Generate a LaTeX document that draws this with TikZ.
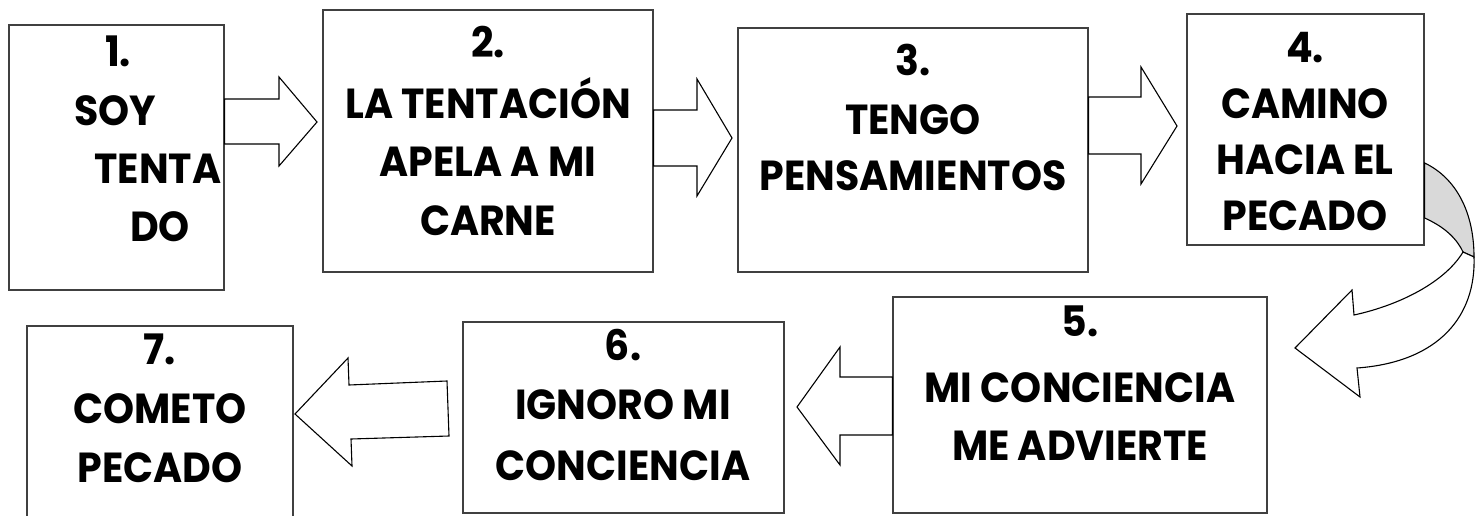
\documentclass[tikz,border=0pt]{standalone}
\usepackage{fontspec}
\setmainfont{Poppins}[FakeStretch=0.94]
\begin{document}
\begin{tikzpicture}[x=1pt,y=-1pt,
  box/.style={draw=black!75, line width=1.3pt, rectangle, inner sep=0pt, fill=white},
  blockarrow/.style={draw=black, line width=1.1pt, fill=white, line join=miter},
  ribbon/.style={draw=black, line width=1.1pt, fill=black!15},
  lbl/.style={font=\fontsize{42}{50}\selectfont\bfseries, anchor=base, inner sep=0pt}]
\useasboundingbox (0,0) rectangle (1479,516);
\fill[white] (0,0) rectangle (1479,516);

% boxes
\node[box, minimum width=215pt, minimum height=265pt] (b1) at (116.5,157.5) {};
\node[box, minimum width=330pt, minimum height=262pt] (b2) at (488,141) {};
\node[box, minimum width=350pt, minimum height=244pt] (b3) at (913,150) {};
\node[box, minimum width=237pt, minimum height=231pt] (b4) at (1305.5,129.5) {};
\node[box, minimum width=374pt, minimum height=216pt] (b5) at (1080,405) {};
\node[box, minimum width=321pt, minimum height=191pt] (b6) at (623.5,417.5) {};
\node[box, minimum width=266pt, minimum height=214pt] (b7) at (160,433) {};

% straight block arrows
\draw[blockarrow] (b1.east |- 0,99) -- (279,99) -- (279,77) -- (317,122) -- (279,166) -- (279,144) -- (b1.east |- 0,144) -- cycle;
\draw[blockarrow] (b2.east |- 0,110) -- (697,110) -- (697,79) -- (732,138) -- (697,196) -- (697,166) -- (b2.east |- 0,166) -- cycle;
\draw[blockarrow] (b3.east |- 0,97) -- (1141,97) -- (1141,67) -- (1177,126) -- (1141,184) -- (1141,154) -- (b3.east |- 0,154) -- cycle;
\draw[blockarrow] (b5.west |- 0,377) -- (840,377) -- (840,347) -- (797,407) -- (840,465) -- (840,435) -- (b5.west |- 0,435) -- cycle;
\draw[blockarrow] (447,381) -- (349,385) -- (348,358) -- (295,414) -- (352,466) -- (351,439) -- (449,436) -- cycle;

% curved arrow from box 4 to box 5
\coordinate (cA) at (b4.east |- 0,163);
\coordinate (cB) at (b4.east |- 0,218);
\coordinate (cD) at (1474,257);
\coordinate (cC) at (1463,252);
\draw[ribbon] (cA) .. controls (1456,178) and (1474,212) .. (cD) -- (cC) .. controls (1455,235) and (1440,225) .. (cB) -- cycle;
\draw[blockarrow] (cD) .. controls (1476,315) and (1440,362) .. (1357,368) -- (1360,397) -- (1295,348) -- (1352,290) -- (1354,315) .. controls (1400,305) and (1445,282) .. (cC) -- cycle;

% texts
\node[lbl] (t1a) at (118,67) {1.};
\node[lbl] (t1b) at (115,125) {SOY};
\node[lbl] (t1c) at (158,183) {TENTA};
\node[lbl] (t1d) at (160,241) {DO};

\node[lbl] (t2a) at (488,58) {2.};
\node[lbl] (t2b) at (488,118) {LA TENTACIÓN};
\node[lbl] (t2c) at (488,176) {APELA A MI};
\node[lbl] (t2d) at (488,235) {CARNE};

\node[lbl] (t3a) at (913,76) {3.};
\node[lbl] (t3b) at (913,134) {TENGO};
\node[lbl] (t3c) at (913,190) {PENSAMIENTOS};

\node[lbl] (t4a) at (1305,63) {4.};
\node[lbl] (t4b) at (1305,118) {CAMINO};
\node[lbl] (t4c) at (1305,174) {HACIA EL};
\node[lbl] (t4d) at (1305,230) {PECADO};

\node[lbl] (t5a) at (1080,336) {5.};
\node[lbl] (t5b) at (1080,402) {MI CONCIENCIA};
\node[lbl] (t5c) at (1080,460) {ME ADVIERTE};

\node[lbl] (t6a) at (623,360) {6.};
\node[lbl] (t6b) at (623,419) {IGNORO MI};
\node[lbl] (t6c) at (623,480) {CONCIENCIA};

\node[lbl] (t7a) at (160,364) {7.};
\node[lbl] (t7b) at (160,423) {COMETO};
\node[lbl] (t7c) at (160,482) {PECADO};
\end{tikzpicture}
\end{document}
